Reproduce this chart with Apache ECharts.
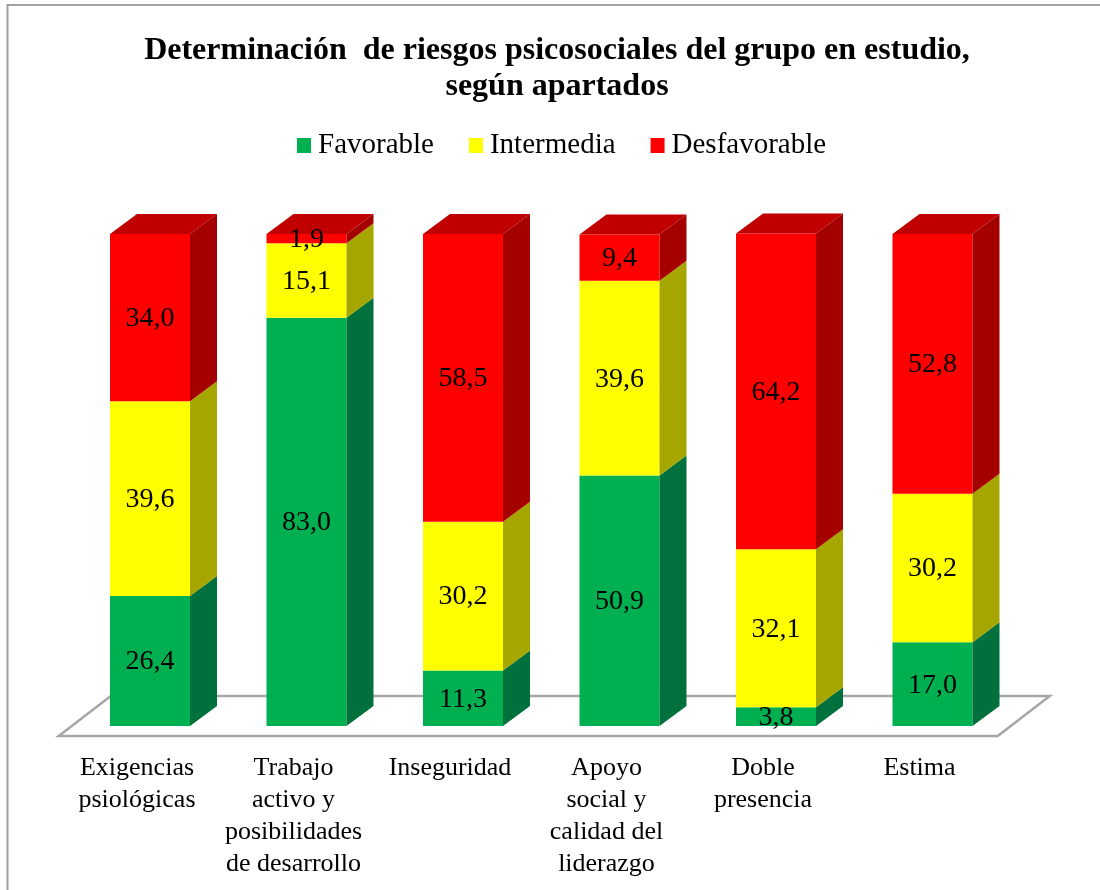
<!DOCTYPE html>
<html><head><meta charset="utf-8">
<script src="https://cdn.jsdelivr.net/npm/echarts@6/dist/echarts.min.js"></script>
<style>html,body{margin:0;padding:0;background:#fff}#c{width:1100px;height:890px}</style>
</head><body><div id="c"></div>
<script>
// ---- data ----
const categories = ['Exigencias\npsiológicas', 'Trabajo\nactivo y\nposibilidades\nde desarrollo', 'Inseguridad', 'Apoyo\nsocial y\ncalidad del\nliderazgo', 'Doble\npresencia', 'Estima'];
const seriesNames = ['Favorable', 'Intermedia', 'Desfavorable'];
const favorable = [26.4, 83.0, 11.3, 50.9, 3.8, 17.0];
const intermedia = [39.6, 15.1, 30.2, 39.6, 32.1, 30.2];
const desfavorable = [34.0, 1.9, 58.5, 9.4, 64.2, 52.8];
const titleText = 'Determinación  de riesgos psicosociales del grupo en estudio,\nsegún apartados';

// ---- styling ----
const palette = [
  {front: '#00B050', side: '#00703C', top: '#00903F'},
  {front: '#FFFF00', side: '#A6A600', top: '#CCCC00'},
  {front: '#FF0000', side: '#A50000', top: '#C00000'}
];
const FONT = '"Liberation Serif", "Times New Roman", serif';
const GRID_LEFT = 58.75, GRID_W = 939, GRID_TOP = 234, GRID_BOTTOM = 164;
const BW = 80, SHIFT = 13, DX = 27, DY = 20;
const FLOOR_Y = 736, FLOOR_DX = 52, FLOOR_DY = 40;

const values = [favorable, intermedia, desfavorable];
const stacked = values.map((arr, k) => arr.map((v, i) => {
  let base = 0;
  for (let j = 0; j < k; j++) base += values[j][i];
  return [i, base, base + v, v];
}));

function makeRender(k) {
  const col = palette[k];
  const isTop = k === values.length - 1;
  return function (params, api) {
    const i = api.value(0), lo = api.value(1), hi = api.value(2);
    const pLo = api.coord([i, lo]), pHi = api.coord([i, hi]);
    const cx = pLo[0] + SHIFT, x0 = cx - BW / 2, x1 = cx + BW / 2;
    const yb = pLo[1], yt = pHi[1];
    const children = [
      {type: 'rect', shape: {x: x0, y: yt, width: BW, height: yb - yt}, style: {fill: col.front}},
      {type: 'polygon', shape: {points: [[x1, yb], [x1, yt], [x1 + DX, yt - DY], [x1 + DX, yb - DY]]}, style: {fill: col.side}}
    ];
    if (isTop) {
      children.push({type: 'polygon', shape: {points: [[x0, yt], [x1, yt], [x1 + DX, yt - DY], [x0 + DX, yt - DY]]}, style: {fill: col.top}});
    }
    return {type: 'group', children: children};
  };
}

const labelData = [];
stacked.forEach(arr => arr.forEach(d => labelData.push(d)));

const series = seriesNames.map((name, k) => ({
  name: name,
  type: 'custom',
  renderItem: makeRender(k),
  itemStyle: {color: palette[k].front},
  encode: {x: 0, y: [1, 2]},
  data: stacked[k],
  z: 2
}));
series.push({
  name: 'labels',
  type: 'custom',
  silent: true,
  z: 10,
  encode: {x: 0, y: [1, 2]},
  data: labelData,
  renderItem: function (params, api) {
    const i = api.value(0), lo = api.value(1), hi = api.value(2), v = api.value(3);
    const pLo = api.coord([i, lo]), pHi = api.coord([i, hi]);
    const cx = pLo[0] + SHIFT;
    return {
      type: 'text',
      x: cx, y: (pLo[1] + pHi[1]) / 2 + 1,
      style: {text: v.toFixed(1).replace('.', ','), font: '28px ' + FONT, fill: '#000', align: 'center', verticalAlign: 'middle'}
    };
  }
});

const chart = echarts.init(document.getElementById('c'), null, {renderer: 'canvas'});
chart.setOption({
  animation: false,
  backgroundColor: '#fff',
  title: {
    text: titleText,
    left: 552, top: 28, textAlign: 'center',
    textStyle: {fontFamily: FONT, fontWeight: 'bold', fontSize: 32, lineHeight: 36, color: '#000'}
  },
  legend: {
    data: seriesNames,
    left: 297, top: 131, padding: 0,
    icon: 'rect', itemWidth: 14, itemHeight: 15, itemGap: 35,
    textStyle: {fontFamily: FONT, fontSize: 29, color: '#000', padding: [0, 0, 0, 2]}
  },
  grid: {left: GRID_LEFT, width: GRID_W, top: GRID_TOP, bottom: GRID_BOTTOM, outerBoundsMode: 'none', containLabel: false},
  xAxis: {
    type: 'category', data: categories,
    axisLine: {show: false}, axisTick: {show: false}, splitLine: {show: false},
    axisLabel: {interval: 0, margin: 26, fontFamily: FONT, fontSize: 26, lineHeight: 32, color: '#000', align: 'center', verticalAlign: 'top'}
  },
  yAxis: {type: 'value', min: 0, max: 100, show: false},
  graphic: [
    {type: 'rect', z: -10, shape: {x: 7.5, y: 5, width: 1200, height: 1000}, style: {fill: 'none', stroke: '#A0A0A0', lineWidth: 2}},
    {type: 'polygon', z: -5, shape: {points: [
      [GRID_LEFT, FLOOR_Y], [GRID_LEFT + GRID_W, FLOOR_Y],
      [GRID_LEFT + GRID_W + FLOOR_DX, FLOOR_Y - FLOOR_DY], [GRID_LEFT + FLOOR_DX, FLOOR_Y - FLOOR_DY]
    ]}, style: {fill: '#fff', stroke: '#A6A6A6', lineWidth: 2.5}}
  ],
  series: series
});
</script>
</body></html>
